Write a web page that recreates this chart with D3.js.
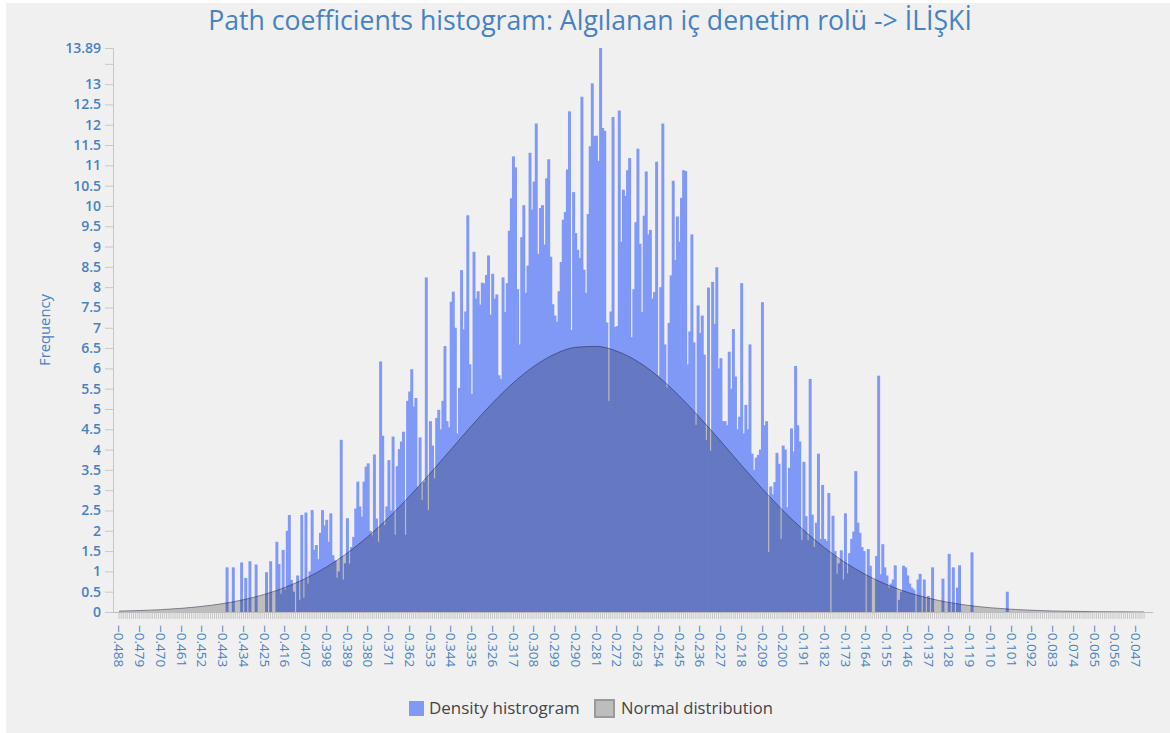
<!DOCTYPE html>
<html>
<head>
<meta charset="utf-8">
<script src="https://cdn.jsdelivr.net/npm/d3@7"></script>
<style>
  body { margin: 0; background: #fff; }
  text { font-family: "Open Sans", Lato, sans-serif; }
</style>
</head>
<body>
<svg id="chart" width="1170" height="733"></svg>
<script>
// bins: every bin is 0.0009 wide, first bin label -0.488
var binStart = -0.488
var binStep = 0.0009
var binCount = 495

// density histogram, bins 52 .. 428
var densityFrom = 52
var densityValues = [
  1.10, 0, 0, 1.10, 0, 0, 0, 1.22, 0, 0.84,
  0, 1.25, 0, 0, 1.17, 0, 0, 0, 0, 0.98,
  0, 1.25, 0, 0, 1.73, 1.18, 0.45, 1.53, 0.55, 2.00,
  2.39, 0.79, 0.50, 0, 0.90, 0.30, 2.39, 0.35, 2.45, 0.70,
  1.00, 2.51, 1.53, 1.65, 1.30, 1.95, 2.51, 2.13, 2.27, 1.73,
  2.43, 1.40, 1.27, 0.84, 1.00, 4.24, 0.80, 1.20, 2.31, 1.19,
  1.60, 1.85, 2.55, 3.21, 2.60, 2.35, 3.21, 3.58, 3.66, 2.00,
  1.89, 3.88, 2.30, 1.73, 6.17, 4.34, 2.14, 2.60, 3.74, 2.50,
  4.32, 1.90, 3.59, 4.01, 4.20, 4.44, 1.90, 5.20, 5.43, 5.98,
  5.06, 5.27, 3.09, 4.30, 2.76, 3.20, 8.24, 2.51, 4.70, 4.10,
  3.29, 4.78, 4.98, 4.50, 5.20, 6.55, 4.70, 4.55, 7.64, 7.89,
  7.00, 4.40, 5.52, 8.42, 6.96, 7.40, 9.77, 6.10, 5.37, 8.87,
  7.72, 7.90, 7.57, 8.11, 8.09, 8.30, 8.78, 7.32, 8.33, 7.72,
  7.82, 5.83, 5.74, 8.24, 7.39, 8.10, 9.39, 10.19, 11.22, 10.95,
  7.95, 6.59, 9.23, 10.02, 7.86, 8.53, 11.31, 9.91, 10.60, 12.03,
  8.82, 9.95, 10.02, 9.05, 10.68, 11.15, 8.75, 7.58, 7.30, 7.15,
  7.90, 8.62, 9.66, 9.85, 10.90, 12.33, 6.95, 10.34, 9.33, 8.92,
  8.72, 12.69, 8.43, 7.86, 9.80, 11.47, 13.02, 11.72, 11.73, 11.11,
  13.89, 11.92, 11.85, 7.13, 5.20, 7.40, 12.19, 7.02, 7.04, 12.35,
  9.12, 10.40, 10.25, 10.88, 11.18, 6.77, 7.95, 9.60, 11.41, 9.07,
  7.39, 9.76, 10.85, 9.30, 9.41, 7.72, 7.88, 11.09, 5.83, 8.00,
  12.03, 6.59, 5.53, 7.12, 8.29, 10.62, 8.67, 9.74, 9.12, 10.20,
  10.88, 10.86, 6.10, 6.91, 9.30, 6.64, 4.61, 7.55, 6.87, 7.30,
  6.34, 4.24, 7.99, 3.97, 8.13, 7.10, 8.49, 6.00, 6.25, 4.70,
  4.70, 4.60, 6.41, 5.50, 6.97, 5.80, 4.50, 4.81, 8.10, 4.40,
  5.10, 4.50, 6.59, 3.90, 3.50, 3.80, 3.87, 4.00, 7.63, 4.60,
  4.70, 1.48, 3.09, 2.90, 3.20, 3.92, 3.65, 1.80, 4.10, 4.00,
  2.58, 3.55, 4.52, 3.95, 6.06, 4.60, 4.20, 1.77, 3.70, 2.36,
  1.77, 5.74, 2.40, 1.60, 2.20, 3.90, 1.80, 3.13, 1.80, 1.75,
  2.93, 0, 2.37, 1.50, 0.94, 1.20, 1.52, 0.80, 2.43, 0.95,
  1.45, 1.80, 1.98, 3.47, 2.20, 1.95, 1.60, 1.50, 0, 1.55,
  1.14, 0, 0, 1.38, 5.82, 0.93, 1.67, 1.10, 0.90, 0.60,
  0.70, 0.80, 1.15, 0, 0.30, 0.50, 1.14, 1.10, 0.90, 0.70,
  0.60, 0.55, 0, 0.80, 0.94, 0, 0.80, 0, 0.40, 0,
  1.10, 0, 0, 0, 0, 0.82, 0, 0, 1.43, 0,
  1.10, 0, 0.60, 1.15, 0, 0, 0, 0, 0, 1.47,
  0, 0, 0, 0, 0, 0, 0, 0, 0, 0,
  0, 0, 0, 0, 0, 0, 0.50
]

// normal distribution read at every labelled bin (0, 10, ... 490) and the last bin
var normalBins = [0, 10, 20, 30, 40, 50, 60, 70, 80, 90, 100, 110, 120, 130, 140, 150, 160,
  170, 180, 190, 200, 210, 220, 230, 240, 250, 260, 270, 280, 290, 300, 310, 320, 330,
  340, 350, 360, 370, 380, 390, 400, 410, 420, 430, 440, 450, 460, 470, 480, 490, 494]
var normalValues = [0.022, 0.036, 0.058, 0.091, 0.139, 0.207, 0.303, 0.433, 0.606, 0.829,
  1.110, 1.453, 1.860, 2.329, 2.853, 3.419, 4.005, 4.593, 5.148, 5.645,
  6.054, 6.352, 6.518, 6.542, 6.422, 6.167, 5.792, 5.321, 4.781, 4.203,
  3.612, 3.037, 2.498, 2.011, 1.582, 1.217, 0.916, 0.675, 0.485, 0.342,
  0.236, 0.159, 0.105, 0.068, 0.043, 0.026, 0.016, 0.009, 0.005, 0.003, 0.002]

var yMax = 13.89
var yTicks = [0, 0.5, 1, 1.5, 2, 2.5, 3, 3.5, 4, 4.5, 5, 5.5, 6, 6.5, 7, 7.5, 8, 8.5, 9,
  9.5, 10, 10.5, 11, 11.5, 12, 12.5, 13, 13.5, 13.89]
var seriesNames = ['Density histrogram', 'Normal distribution']
var titleText = 'Path coefficients histogram: Algılanan iç denetim rolü -> İLİŞKİ'

var blue = '#8099f6'
var textBlue = '#4682c2'

var svg = d3.select('#chart')

svg.append('rect')
    .attr('x', 6).attr('y', 3)
    .attr('width', 1164).attr('height', 730)
    .attr('fill', '#f0f0f0')

var plotLeft = 113
var plotBottom = 612
var plotTop = 48

var x = d3.scaleBand()
    .domain(d3.range(binCount))
    .range([118, 118 + binCount * 2.075])
var y = d3.scaleLinear()
    .domain([0, yMax])
    .range([plotBottom, plotTop])

// fit a text element to a width
function fitWidth(sel, target) {
  var size = parseFloat(sel.style('font-size'))
  var w = sel.node().getComputedTextLength()
  sel.style('font-size', (size * target / w) + 'px')
}

// histogram bars
var bars = densityValues.map(function (v, j) {
  return { bin: densityFrom + j, v: v }
}).filter(function (d) { return d.v > 0 })

svg.append('g').selectAll('rect')
    .data(bars)
  .enter().append('rect')
    .attr('x', function (d) { return x(d.bin) - 0.3 })
    .attr('width', x.bandwidth() + 0.9)
    .attr('y', function (d) { return y(d.v) })
    .attr('height', function (d) { return y(0) - y(d.v) })
    .attr('fill', blue)

// normal distribution, drawn over the bars
var normalPts = normalBins.map(function (b, i) { return [b, normalValues[i]] })
var area = d3.area()
    .x(function (d) { return x(d[0]) + x.bandwidth() / 2 })
    .y0(y(0))
    .y1(function (d) { return y(d[1]) })
    .curve(d3.curveMonotoneX)
var line = d3.line()
    .x(function (d) { return x(d[0]) + x.bandwidth() / 2 })
    .y(function (d) { return y(d[1]) })
    .curve(d3.curveMonotoneX)

svg.append('path')
    .datum(normalPts)
    .attr('d', area)
    .attr('fill', 'rgba(0,0,0,0.21)')
svg.append('path')
    .datum(normalPts)
    .attr('d', line)
    .attr('fill', 'none')
    .attr('stroke', 'rgba(20,20,50,0.45)')
    .attr('stroke-width', 1)

// x axis: one tick per bin, a label every 10 bins
var fmt = d3.format('.3f')
var xAxis = d3.axisBottom(x)
    .tickSize(7)
    .tickFormat(function (d) { return d % 10 === 0 ? fmt(binStart + d * binStep) : '' })

var gx = svg.append('g')
    .attr('transform', 'translate(0,' + plotBottom + ')')
    .call(xAxis)
gx.select('.domain').remove()
gx.selectAll('.tick line').attr('stroke', '#c6c6c6')
gx.selectAll('.tick text')
    .attr('transform', 'rotate(90)')
    .attr('x', 13)
    .attr('y', 0)
    .attr('dy', '0.35em')
    .style('text-anchor', 'start')
    .style('font-family', '"Open Sans", sans-serif')
    .style('font-size', '13.5px')
    .attr('fill', textBlue)

svg.append('line')
    .attr('x1', plotLeft).attr('x2', x.range()[1] + 8)
    .attr('y1', plotBottom + 0.5).attr('y2', plotBottom + 0.5)
    .attr('stroke', '#bdbdbd')

// y axis
var yAxis = d3.axisLeft(y)
    .tickValues(yTicks)
    .tickSize(8)
    .tickFormat(function (d) { return d === 13.5 ? '' : d })

var gy = svg.append('g')
    .attr('transform', 'translate(' + plotLeft + ',0)')
    .call(yAxis)
gy.select('.domain').attr('stroke', '#c8c8c8')
gy.selectAll('.tick line').attr('stroke', '#c8c8c8')
gy.selectAll('.tick text')
    .attr('x', -12)
    .style('font-family', '"Open Sans", sans-serif')
    .style('font-size', '14px')
    .style('font-weight', '600')
    .attr('fill', textBlue)

// title
var title = svg.append('text')
    .attr('x', 590).attr('y', 30)
    .attr('text-anchor', 'middle')
    .style('font-size', '22px')
    .attr('fill', textBlue)
    .text(titleText)
fitWidth(title, 764)

var ylab = svg.append('text')
    .attr('transform', 'translate(50,330) rotate(-90)')
    .attr('text-anchor', 'middle')
    .style('font-size', '15px')
    .attr('fill', textBlue)
    .text('Frequency')
fitWidth(ylab, 72)

// legend
var legend = svg.append('g')
legend.append('rect')
    .attr('x', 409).attr('y', 701).attr('width', 15).attr('height', 15)
    .attr('fill', blue)
var l1 = legend.append('text')
    .attr('x', 429).attr('y', 714)
    .style('font-size', '15.5px')
    .attr('fill', '#444')
    .text(seriesNames[0])
fitWidth(l1, 151)
legend.append('rect')
    .attr('x', 595).attr('y', 700).attr('width', 19).attr('height', 17)
    .attr('fill', '#bdbdbd')
    .attr('stroke', '#9a9a9a')
    .attr('stroke-width', 2)
var l2 = legend.append('text')
    .attr('x', 621).attr('y', 714)
    .style('font-size', '15.5px')
    .attr('fill', '#444')
    .text(seriesNames[1])
fitWidth(l2, 152)
</script>
</body>
</html>
